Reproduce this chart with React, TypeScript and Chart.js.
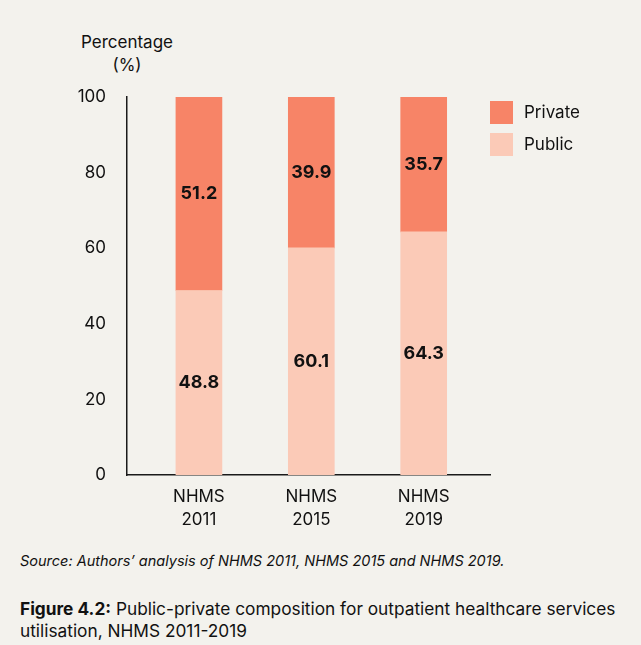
import React, { useEffect, useRef } from "react";
import { Chart, registerables } from "chart.js";

Chart.register(...registerables);

const surveys = ["NHMS\n2011", "NHMS\n2015", "NHMS\n2019"];
const publicShare = [48.8, 60.1, 64.3];
const privateShare = [51.2, 39.9, 35.7];
const yTicks = [0, 20, 40, 60, 80, 100];

const PUBLIC_COLOR = "#fbcab7";
const PRIVATE_COLOR = "#f78467";
const BG = "#f3f2ed";
const FONT = "Inter, 'Noto Sans', sans-serif";

// Bold value labels centred in each stacked segment
const segmentLabels = {
  id: "segmentLabels",
  afterDatasetsDraw(chart: any) {
    const ctx = chart.ctx;
    ctx.save();
    ctx.font = `bold 18px ${FONT}`;
    ctx.fillStyle = "#111";
    ctx.textAlign = "center";
    ctx.textBaseline = "middle";
    chart.data.datasets.forEach((ds: any, di: number) => {
      const meta = chart.getDatasetMeta(di);
      meta.data.forEach((bar: any, i: number) => {
        const v = ds.data[i].y;
        const mid = (bar.y + bar.base) / 2;
        ctx.fillText(v.toFixed(1), bar.x, mid);
      });
    });
    ctx.restore();
  },
};

// Legend on the right, listing Private above Public
const sideLegend = {
  id: "sideLegend",
  afterDraw(chart: any) {
    const ctx = chart.ctx;
    const items = [...chart.data.datasets].reverse();
    const x0 = chart.chartArea.right;
    ctx.save();
    ctx.font = `17px ${FONT}`;
    ctx.textBaseline = "middle";
    ctx.textAlign = "left";
    items.forEach((ds: any, i: number) => {
      const top = chart.chartArea.top + 4 + i * 32;
      ctx.fillStyle = ds.backgroundColor;
      ctx.fillRect(x0 + 0, top, 23, 23);
      ctx.fillStyle = "#111";
      ctx.fillText(ds.label, x0 + 34, top + 12);
    });
    ctx.restore();
  },
};

export default function App() {
  const ref = useRef<HTMLCanvasElement>(null);

  useEffect(() => {
    document.body.style.margin = "0";
    document.body.style.background = BG;
    const chart = new Chart(ref.current!, {
      type: "bar",
      data: {
        datasets: [
          {
            label: "Public",
            data: publicShare.map((y, i) => ({ x: i, y })),
            backgroundColor: PUBLIC_COLOR,
            barThickness: 46,
          },
          {
            label: "Private",
            data: privateShare.map((y, i) => ({ x: i, y })),
            backgroundColor: PRIVATE_COLOR,
            barThickness: 46,
          },
        ],
      },
      options: {
        animation: false,
        responsive: false,
        layout: { padding: { left: 0, right: 151, top: 97, bottom: 0 } },
        plugins: { legend: { display: false }, tooltip: { enabled: false } },
        scales: {
          x: {
            type: "linear",
            stacked: true,
            offset: false,
            min: -0.64,
            max: 2.59,
            grid: { display: false },
            border: { display: true, color: "#1a1a1a", width: 1.5 },
            afterBuildTicks: (scale: any) => {
              scale.ticks = surveys.map((_, i) => ({ value: i }));
            },
            afterFit: (scale: any) => {
              scale.height = 65;
            },
            ticks: {
              padding: 2,
              color: "#111",
              font: { family: FONT, size: 17, lineHeight: 1.35 },
              callback: (v: any) => surveys[v as number].split("\n"),
            },
          },
          y: {
            stacked: true,
            min: 0,
            max: 100,
            grid: { display: false },
            border: { display: true, color: "#1a1a1a", width: 1.5 },
            afterBuildTicks: (scale: any) => {
              scale.ticks = yTicks.map((value) => ({ value }));
            },
            afterFit: (scale: any) => {
              scale.width = 127;
            },
            ticks: {
              padding: 13,
              color: "#111",
              font: { family: FONT, size: 17 },
            },
          },
        },
      },
      plugins: [segmentLabels, sideLegend],
    });
    return () => chart.destroy();
  }, []);

  return (
    <div
      style={{
        position: "relative",
        width: 641,
        height: 645,
        background: BG,
        fontFamily: FONT,
        color: "#111",
        overflow: "hidden",
      }}
    >
      <div
        style={{
          position: "absolute",
          left: 47,
          top: 31,
          width: 160,
          textAlign: "center",
          fontSize: 17,
          lineHeight: "23px",
        }}
      >
        Percentage
        <br />
        (%)
      </div>
      <canvas
        ref={ref}
        width={641}
        height={540}
        style={{ position: "absolute", left: 0, top: 0 }}
      />
      <div
        style={{
          position: "absolute",
          left: 20,
          top: 552,
          fontSize: 14.5,
          fontStyle: "italic",
          whiteSpace: "nowrap",
        }}
      >
        Source: Authors’ analysis of NHMS 2011, NHMS 2015 and NHMS 2019.
      </div>
      <div
        style={{
          position: "absolute",
          left: 20,
          top: 598,
          width: 615,
          fontSize: 17.3,
          lineHeight: "22px",
        }}
      >
        <b>Figure 4.2:</b> Public-private composition for outpatient healthcare
        services utilisation, NHMS 2011-2019
      </div>
    </div>
  );
}
